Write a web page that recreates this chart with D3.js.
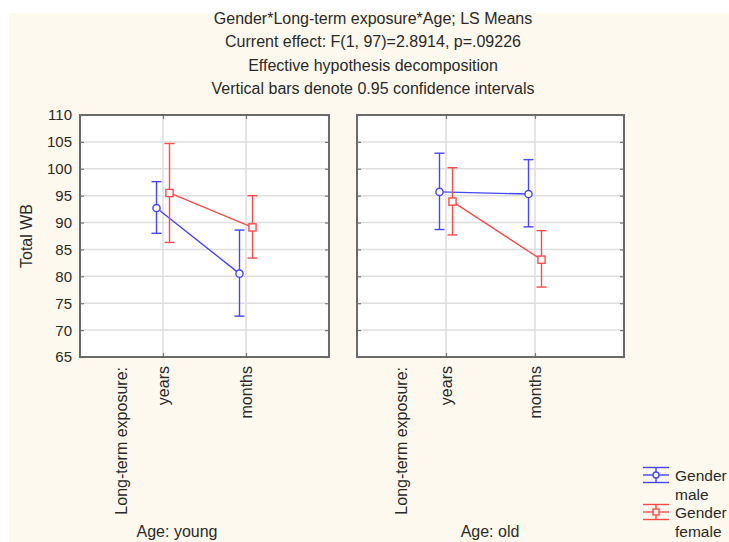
<!DOCTYPE html>
<html>
<head>
<meta charset="utf-8">
<script src="https://cdn.jsdelivr.net/npm/d3@7"></script>
<style>
  html, body { margin: 0; padding: 0; background: #ffffff; }
  svg { display: block; font-family: "Liberation Sans", Arial, sans-serif; }
</style>
</head>
<body>
<svg id="chart" width="729" height="542"></svg>
<script>
// LS means of Total WB by gender, long-term exposure and age, with 95% CIs
const titleLines = [
  "Gender*Long-term exposure*Age; LS Means",
  "Current effect: F(1, 97)=2.8914, p=.09226",
  "Effective hypothesis decomposition",
  "Vertical bars denote 0.95 confidence intervals"
];
const ageGroups = ["young", "old"];
const exposureLevels = ["years", "months"];
const genders = ["male", "female"];
const yTicks = [65, 70, 75, 80, 85, 90, 95, 100, 105, 110];

// per age group: [years, months]
const maleMean   = { young: [92.7, 80.5], old: [95.7, 95.3] };
const maleLow    = { young: [88.0, 72.6], old: [88.7, 89.2] };
const maleHigh   = { young: [97.6, 88.6], old: [102.9, 101.7] };
const femaleMean = { young: [95.5, 89.1], old: [93.9, 83.1] };
const femaleLow  = { young: [86.3, 83.4], old: [87.7, 78.0] };
const femaleHigh = { young: [104.7, 95.0], old: [100.2, 88.5] };

const seriesData = {
  male:   { mean: maleMean, low: maleLow, high: maleHigh },
  female: { mean: femaleMean, low: femaleLow, high: femaleHigh }
};
const colors = { male: "#4646ff", female: "#ff4c4c" };

const svg = d3.select("#chart");
const textColor = "#2a2a2a";
const fs = 16;

// cream plot area
svg.append("rect").attr("x", 9).attr("y", 13).attr("width", 720).attr("height", 529)
  .attr("fill", "#fef9ee");

// titles
svg.append("g").selectAll("text").data(titleLines).join("text")
  .attr("x", 373).attr("y", (d, i) => 23.5 + i * 23.6)
  .attr("text-anchor", "middle").attr("font-size", fs).attr("fill", textColor)
  .text(d => d);

const y = d3.scaleLinear().domain([65, 110]).range([357, 115]);

const panels = [
  { age: "young", x0: 80, x1: 329, label: "Age: young", labelX: 177 },
  { age: "old", x0: 357, x1: 624, label: "Age: old", labelX: 490 }
];

const genderOffset = d3.scalePoint().domain(genders).range([-6.5, 6.5]);

panels.forEach((p, pi) => {
  const g = svg.append("g");
  const x = d3.scalePoint().domain(exposureLevels).range([p.x0, p.x1]).padding(1);

  g.append("rect").attr("x", p.x0).attr("y", y(110)).attr("width", p.x1 - p.x0)
    .attr("height", y(65) - y(110)).attr("fill", "#ffffff");

  // grid
  g.append("g").selectAll("line").data(yTicks.filter(t => t > 65 && t < 110)).join("line")
    .attr("x1", p.x0).attr("x2", p.x1).attr("y1", d => y(d)).attr("y2", d => y(d))
    .attr("stroke", "#dedede").attr("stroke-width", 1.5);
  g.append("g").selectAll("line").data(exposureLevels).join("line")
    .attr("x1", d => x(d)).attr("x2", d => x(d)).attr("y1", y(110)).attr("y2", y(65))
    .attr("stroke", "#dedede").attr("stroke-width", 1.5);

  // inward ticks on all sides
  const yAxisL = d3.axisRight(y).tickValues(yTicks).tickSize(4).tickFormat("");
  const yAxisR = d3.axisLeft(y).tickValues(yTicks).tickSize(4).tickFormat("");
  const xAxisB = d3.axisTop(x).tickSize(4).tickFormat("");
  const xAxisT = d3.axisBottom(x).tickSize(4).tickFormat("");
  [[yAxisL, `translate(${p.x0},0)`], [yAxisR, `translate(${p.x1},0)`],
   [xAxisB, `translate(0,${y(65)})`], [xAxisT, `translate(0,${y(110)})`]].forEach(([ax, tr]) => {
    const a = g.append("g").attr("transform", tr).call(ax);
    a.select(".domain").remove();
    a.selectAll("line").attr("stroke", "#777").attr("stroke-width", 1.2);
  });

  // frame
  g.append("rect").attr("x", p.x0).attr("y", y(110)).attr("width", p.x1 - p.x0)
    .attr("height", y(65) - y(110)).attr("fill", "none")
    .attr("stroke", "#6a6a6a").attr("stroke-width", 2);

  // y tick labels on the first panel
  if (pi === 0) {
    g.append("g").selectAll("text").data(yTicks).join("text")
      .attr("x", 72).attr("y", d => y(d)).attr("dy", "0.36em")
      .attr("text-anchor", "end").attr("font-size", 15).attr("fill", textColor)
      .text(d => d);
    g.append("text").attr("transform", `translate(26,236) rotate(-90)`)
      .attr("dy", "0.36em").attr("text-anchor", "middle").attr("font-size", fs)
      .attr("fill", textColor).text("Total WB");
  }

  // category labels (rotated)
  g.append("g").selectAll("text").data(exposureLevels).join("text")
    .attr("transform", d => `translate(${x(d)},366) rotate(-90)`)
    .attr("dy", "0.36em").attr("text-anchor", "end").attr("font-size", fs)
    .attr("fill", textColor).text(d => d);
  g.append("text")
    .attr("transform", `translate(${(p.x0 + x(exposureLevels[0])) / 2},367) rotate(-90)`)
    .attr("dy", "0.36em").attr("text-anchor", "end").attr("font-size", fs)
    .attr("fill", textColor).text("Long-term exposure:");
  g.append("text").attr("x", p.labelX).attr("y", 537).attr("text-anchor", "middle")
    .attr("font-size", fs).attr("fill", textColor).text(p.label);

  // series
  genders.forEach(gen => {
    const s = seriesData[gen];
    const col = colors[gen];
    const pts = exposureLevels.map((e, i) => ({
      x: x(e) + genderOffset(gen),
      m: s.mean[p.age][i], lo: s.low[p.age][i], hi: s.high[p.age][i]
    }));
    const sg = g.append("g").attr("stroke", col).attr("fill", "none").attr("stroke-width", 1.4);
    sg.append("path").attr("d", d3.line().x(d => d.x).y(d => y(d.m))(pts));
    pts.forEach(d => {
      sg.append("line").attr("x1", d.x).attr("x2", d.x).attr("y1", y(d.lo)).attr("y2", y(d.hi));
      [d.lo, d.hi].forEach(v => sg.append("line").attr("x1", d.x - 5).attr("x2", d.x + 5)
        .attr("y1", y(v)).attr("y2", y(v)));
      if (gen === "male") {
        sg.append("circle").attr("cx", d.x).attr("cy", y(d.m)).attr("r", 3.6).attr("fill", "#ffffff");
      } else {
        sg.append("rect").attr("x", d.x - 3.6).attr("y", y(d.m) - 3.6)
          .attr("width", 7.2).attr("height", 7.2).attr("fill", "#ffffff");
      }
    });
  });
});

// legend
const legend = svg.append("g");
const legendRows = [
  { gen: "male", yc: 475, lines: ["Gender", "male"] },
  { gen: "female", yc: 512, lines: ["Gender", "female"] }
];
legendRows.forEach(r => {
  const col = colors[r.gen];
  const lg = legend.append("g").attr("stroke", col).attr("stroke-width", 1.4).attr("fill", "none");
  [-7.5, 0, 7.5].forEach(dy => lg.append("line").attr("x1", 643).attr("x2", 669)
    .attr("y1", r.yc + dy).attr("y2", r.yc + dy));
  lg.append("line").attr("x1", 656).attr("x2", 656).attr("y1", r.yc - 7.5).attr("y2", r.yc + 7.5);
  if (r.gen === "male") {
    lg.append("circle").attr("cx", 656).attr("cy", r.yc).attr("r", 3).attr("fill", "#fef9ee");
  } else {
    lg.append("rect").attr("x", 653).attr("y", r.yc - 3).attr("width", 6).attr("height", 6).attr("fill", "#fef9ee");
  }
  legend.append("g").selectAll("text").data(r.lines).join("text")
    .attr("x", 675).attr("y", (d, i) => r.yc + 5.5 + i * 19.5)
    .attr("font-size", 15.5).attr("fill", textColor).text(d => d);
});
</script>
</body>
</html>
